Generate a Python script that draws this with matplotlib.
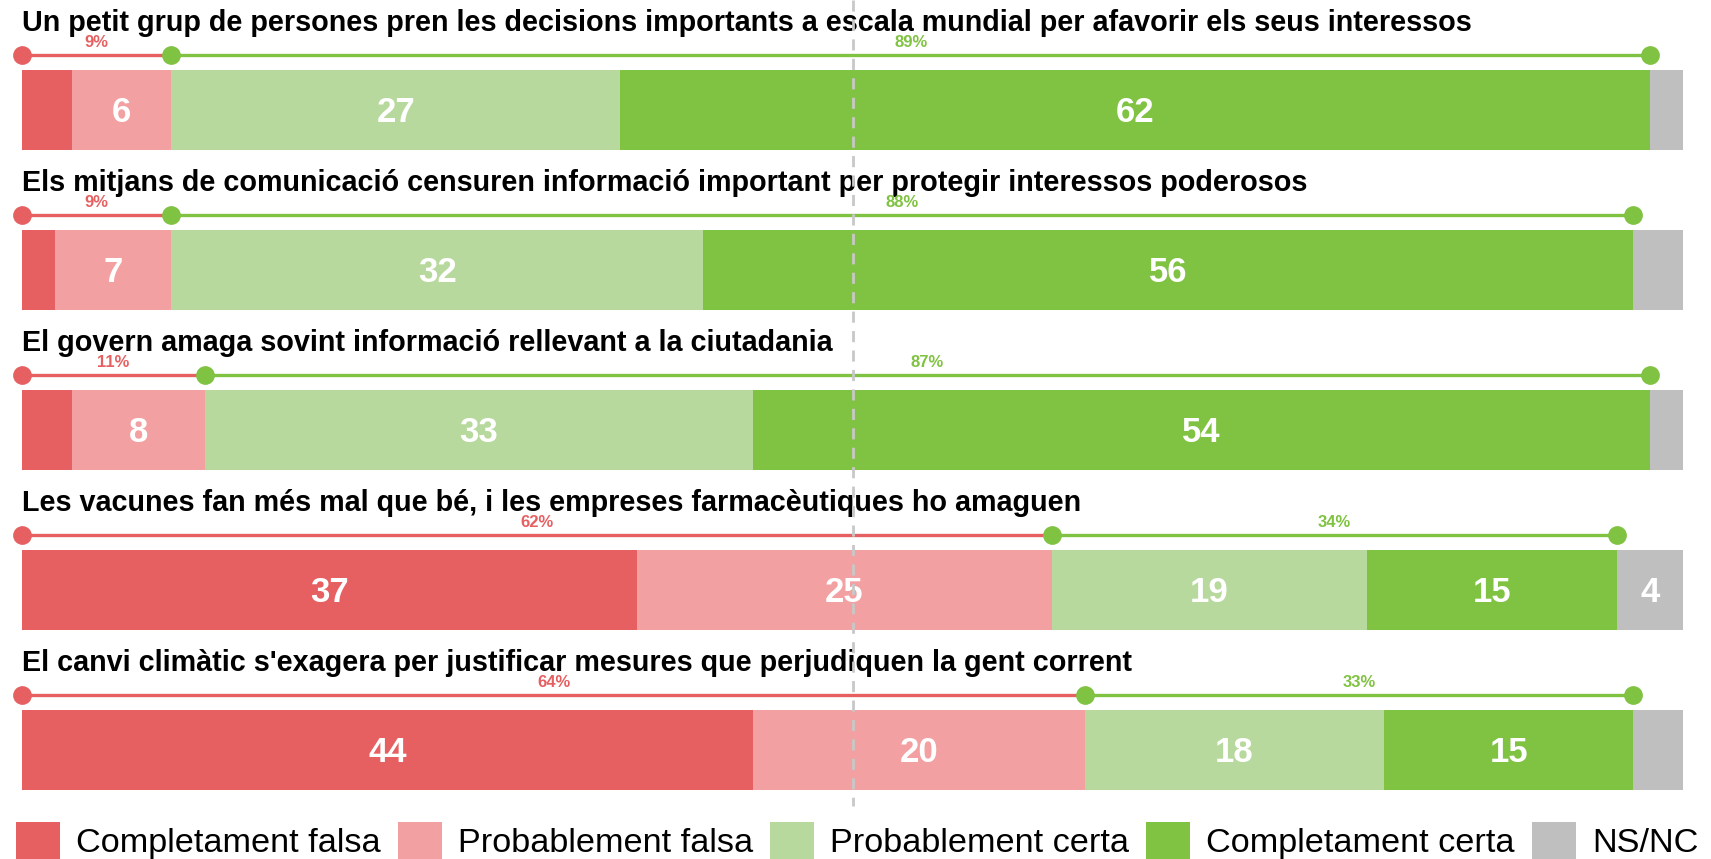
import matplotlib.pyplot as plt
from matplotlib.patches import Patch

# Survey statements (top to bottom) and answer shares in percent
statements = [
    "Un petit grup de persones pren les decisions importants a escala mundial per afavorir els seus interessos",
    "Els mitjans de comunicació censuren informació important per protegir interessos poderosos",
    "El govern amaga sovint informació rellevant a la ciutadania",
    "Les vacunes fan més mal que bé, i les empreses farmacèutiques ho amaguen",
    "El canvi climàtic s'exagera per justificar mesures que perjudiquen la gent corrent",
]
completament_falsa = [3, 2, 3, 37, 44]
probablement_falsa = [6, 7, 8, 25, 20]
probablement_certa = [27, 32, 33, 19, 18]
completament_certa = [62, 56, 54, 15, 15]
ns_nc = [2, 3, 2, 4, 3]

categories = ["Completament falsa", "Probablement falsa", "Probablement certa",
              "Completament certa", "NS/NC"]
colors = ["#E66062", "#F2A0A1", "#B8D99D", "#80C241", "#BFBFBF"]
RED, GREEN = "#E66062", "#80C241"

FONT = ["Liberation Sans", "DejaVu Sans"]

W, H = 1711, 859
LEFT, RIGHT = 22, 1683          # pixel extent of the 0-100 scale
px = (RIGHT - LEFT) / 100.0
ROW0, PITCH, BAR_H = 110, 160, 80

fig = plt.figure(figsize=(W / 100, H / 100), dpi=100)
ax = fig.add_axes([0, 0, 1, 1])
ax.set_xlim(-LEFT / px, (W - LEFT) / px)
ax.set_ylim(H, 0)
ax.axis("off")

series = [completament_falsa, probablement_falsa, probablement_certa,
          completament_certa, ns_nc]

for i, title in enumerate(statements):
    yc = ROW0 + PITCH * i
    left = 0
    for vals, col in zip(series, colors):
        v = vals[i]
        ax.barh(yc, v, left=left, height=BAR_H, color=col, zorder=2)
        if v >= 4:
            ax.text(left + v / 2, yc + 3, str(v), ha="center", va="center",
                    color="white", fontsize=25, fontweight="bold",
                    family=FONT, zorder=4)
        left += v

    ax.text(0, yc - 79, title, ha="left", va="baseline", fontsize=20.7,
            fontweight="bold", family=FONT, color="black", zorder=3)

    falsa = completament_falsa[i] + probablement_falsa[i]
    certa = probablement_certa[i] + completament_certa[i]
    ly = yc - 55
    ax.plot([0, falsa], [ly, ly], color=RED, lw=2.4, zorder=3,
            solid_capstyle="butt")
    ax.plot([falsa, falsa + certa], [ly, ly], color=GREEN, lw=2.4, zorder=3,
            solid_capstyle="butt")
    ax.plot([0], [ly], "o", color=RED, ms=13.5, mec="none", zorder=4)
    ax.plot([falsa, falsa + certa], [ly, ly], "o", color=GREEN, ms=13.5,
            mec="none", zorder=4)
    ax.text(falsa / 2, ly - 5, f"{falsa}%", ha="center", va="bottom",
            color=RED, fontsize=12, fontweight="bold", family=FONT, zorder=4)
    ax.text(falsa + certa / 2, ly - 5, f"{certa}%", ha="center", va="bottom",
            color=GREEN, fontsize=12, fontweight="bold", family=FONT, zorder=4)

# 50% reference line
ax.plot([50, 50], [0, 806], color="#C8C8C8", lw=2, ls=(0, (4, 3)), zorder=5)

handles = [Patch(facecolor=c, edgecolor="none") for c in colors]
leg = ax.legend(handles, categories, ncol=5, loc="lower left",
                bbox_to_anchor=(16 / W, 0), frameon=False, borderpad=0,
                borderaxespad=0, handlelength=1.28, handleheight=1.25,
                handletextpad=0.47, columnspacing=0.5,
                prop={"family": FONT, "size": 24.7})

fig.savefig("out.png", dpi=100)
